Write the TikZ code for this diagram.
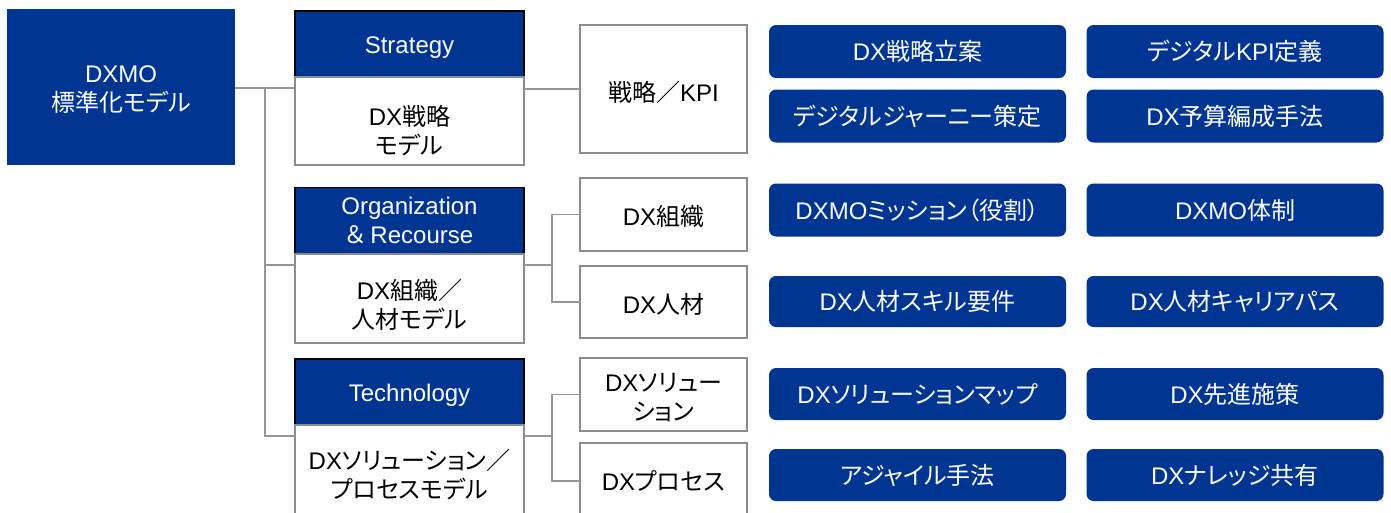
\documentclass[tikz,border=0pt]{standalone}
\usepackage{fontspec}
\setmainfont{Liberation Sans}
\newfontfamily\jpfont[RawFeature=+palt]{Noto Sans CJK JP}
% Japanese characters switch to the CJK font automatically
\XeTeXinterchartokenstate=1
\newXeTeXintercharclass\jpclass
\count255="3000
\loop\XeTeXcharclass\count255=\jpclass\ifnum\count255<"9FFF\advance\count255 by 1\repeat
\count255="FF00
\loop\XeTeXcharclass\count255=\jpclass\ifnum\count255<"FFEF\advance\count255 by 1\repeat
\XeTeXinterchartoks 0 \jpclass={\begingroup\jpfont}
\XeTeXinterchartoks 4095 \jpclass={\begingroup\jpfont}
\XeTeXinterchartoks \jpclass 0={\endgroup}
\XeTeXinterchartoks \jpclass 4095={\endgroup}
\definecolor{dxblue}{RGB}{0,53,145}
\definecolor{boxgray}{RGB}{140,140,140}
\definecolor{linegray}{RGB}{150,150,150}
\newcommand{\lift}[1]{\rule{0pt}{#1}}
\tikzset{drop/.style={execute at begin node={\lift{#1}}}}
\begin{document}
\begin{tikzpicture}[x=1pt,y=-1pt]
  \tikzstyle{txt}=[inner sep=0pt,outer sep=0pt,align=center,font=\fontsize{24}{29}\selectfont]
  \tikzstyle{root}=[txt,fill=dxblue,text=white,minimum width=228pt,minimum height=156pt]
  \tikzstyle{head}=[txt,draw=black,line width=1.5pt,fill=dxblue,text=white,minimum width=229pt,minimum height=66pt]
  \tikzstyle{model}=[txt,draw=boxgray,line width=1.5pt,fill=white,minimum width=229pt,minimum height=88pt]
  \tikzstyle{area}=[txt,draw=boxgray,line width=1.5pt,fill=white,minimum width=167pt,minimum height=73pt]
  \tikzstyle{item}=[txt,rounded corners=7pt,fill=dxblue,text=white,minimum width=297pt,minimum height=53pt]
  \tikzstyle{link}=[draw=linegray,line width=1.3pt]
  \useasboundingbox (0,0) rectangle (1391,512);
  % root
  \node [root] (root) at (121,87) {\lift{22pt}DXMO\\標準化モデル};
  % models
  \node [head,drop=23.5pt] (strath) at (409.5,44) {Strategy};
  \node [model] (stratb) at (409.5,121) {\lift{39pt}DX戦略\\モデル};
  \node [head] (orgh) at (409.5,220.5) {Organization\\＆\kern5pt Recourse};
  \node [model,minimum height=89pt] (orgb) at (409.5,298.5) {\lift{32pt}DX組織／\\人材モデル};
  \node [head,drop=23.5pt] (techh) at (409.5,392) {Technology};
  \node [model,minimum height=100pt] (techb) at (409.5,475) {DXソリューション／\\プロセスモデル};
  % areas
  \node [area,drop=27pt,minimum height=128pt] (kpi) at (663.5,89) {戦略／KPI};
  \node [area,drop=25pt] (dxorg) at (663.5,214.5) {DX組織};
  \node [area,drop=25pt,minimum height=72pt] (dxhr) at (663.5,302) {DX人材};
  \node [area] (dxsol) at (663.5,394.5) {\lift{25pt}DXソリュー\\ション};
  \node [area,minimum height=76pt] (dxproc) at (663.5,481) {DXプロセス};
  % items
  \node [item] (i1a) at (917.5,51.5) {DX戦略立案};
  \node [item] (i1b) at (1235,51.5) {デジタルKPI定義};
  \node [item] (i2a) at (917.5,116) {デジタルジャーニー策定};
  \node [item] (i2b) at (1235,116) {DX予算編成手法};
  \node [item] (i3a) at (917.5,210) {DXMOミッション（役割）};
  \node [item] (i3b) at (1235,210) {DXMO体制};
  \node [item,minimum height=51pt] (i4a) at (917.5,301.5) {DX人材スキル要件};
  \node [item,minimum height=51pt] (i4b) at (1235,301.5) {DX人材キャリアパス};
  \node [item,minimum height=52pt] (i5a) at (917.5,394) {DXソリューションマップ};
  \node [item,minimum height=52pt] (i5b) at (1235,394) {DX先進施策};
  \node [item,minimum height=52pt] (i6a) at (917.5,475) {アジャイル手法};
  \node [item,minimum height=52pt] (i6b) at (1235,475) {DXナレッジ共有};
  % connectors
  \coordinate (t0) at (265,88);
  \coordinate (t1) at (265,265);
  \coordinate (t2) at (265,436);
  \coordinate (o1) at (552,265);
  \coordinate (o2) at (552,436);
  \path[link] (root.east |- t0) -- (t0) -- (stratb.west |- t0);
  \path[link] (t0) -- (t2) -- (techb.west |- t2);
  \path[link] (t1) -- (orgb.west |- t1);
  \path[link] (stratb.east |- kpi.west) -- (kpi.west);
  \path[link] (orgb.east |- o1) -- (o1);
  \path[link] (dxorg.west) -- (o1 |- dxorg.west) -- (o1 |- dxhr.west) -- (dxhr.west);
  \path[link] (techb.east |- o2) -- (o2);
  \path[link] (dxsol.west) -- (o2 |- dxsol.west) -- (o2 |- dxproc.west) -- (dxproc.west);
\end{tikzpicture}
\end{document}
